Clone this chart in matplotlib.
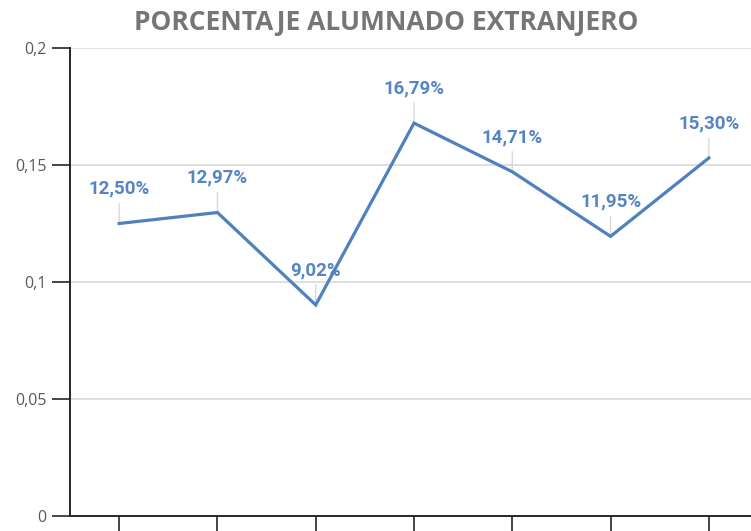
import numpy as np
import matplotlib
matplotlib.use("Agg")
import matplotlib.pyplot as plt

# data
positions = [1, 2, 3, 4, 5, 6, 7]
values = [0.1250, 0.1297, 0.0902, 0.1679, 0.1471, 0.1195, 0.1530]
labels = ["12,50%", "12,97%", "9,02%", "16,79%", "14,71%", "11,95%", "15,30%"]
yticks = [0, 0.05, 0.1, 0.15, 0.2]
ytick_labels = ["0", "0,05", "0,1", "0,15", "0,2"]
title = "PORCENTAJE ALUMNADO EXTRANJERO"

line_color = "#4f81bd"
label_color = "#5585c5"
grid_color = "#d9d9d9"

fig = plt.figure(figsize=(7.51, 5.31), dpi=100)
ax = fig.add_axes([70 / 751, 15 / 531, 688 / 751, 468 / 531])

ax.plot(positions, values, color=line_color, lw=2.3, zorder=4,
        solid_joinstyle="miter")

for x, v, lab in zip(positions, values, labels):
    ax.annotate(lab, (x, v), xytext=(0, 25), textcoords="offset points",
                ha="center", va="center", color=label_color,
                fontsize=13.5, fontweight="bold", family="Roboto",
                arrowprops=dict(arrowstyle="-", color=grid_color, lw=1,
                                shrinkA=2, shrinkB=0),
                zorder=3)

ax.set_xlim(0.5, 7.5)
ax.set_ylim(0, 0.2)
ax.set_xticks(positions)
ax.set_xticklabels([])
ax.set_yticks(yticks)
ax.set_yticklabels(ytick_labels, family="Open Sans", fontsize=11.5,
                   color="#595959")
ax.yaxis.grid(True, color=grid_color, lw=1.2)
ax.set_axisbelow(True)

for s in ["top", "right"]:
    ax.spines[s].set_visible(False)
ax.spines["left"].set_color("#262626")
ax.spines["left"].set_linewidth(1.4)
ax.spines["bottom"].set_color("#262626")
ax.spines["bottom"].set_linewidth(1.4)
ax.tick_params(axis="y", length=13, width=1.2, color="#262626", pad=4)
ax.tick_params(axis="x", length=14, width=1.2, color="#262626")

fig.text(386 / 751, 1 - 23 / 531, title, ha="center", va="center",
         family="Open Sans", fontweight="bold", fontsize=19,
         color="#767676")

fig.savefig("out.png", dpi=100)
